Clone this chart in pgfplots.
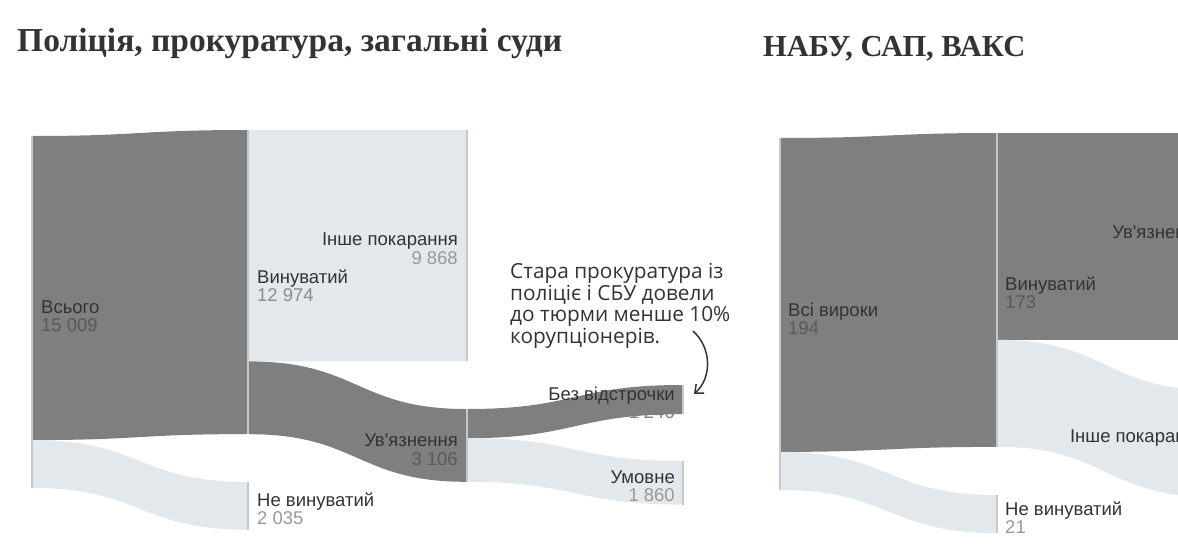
\documentclass[border=0pt]{standalone}
\usepackage{pgfplots}
\pgfplotsset{compat=1.18}
\usetikzlibrary{arrows.meta}
\usepackage{fontspec}
\setmainfont{Liberation Sans}[Ligatures=TeXOff]
\newfontfamily\titlefont{Liberation Serif}
\newfontfamily\notefont{Open Sans}

\definecolor{dark}{HTML}{7F7F7F}
\definecolor{light}{HTML}{E2E8EB}
\definecolor{nodebar}{HTML}{C8C8C8}
\definecolor{txt}{HTML}{333333}

% flow: x0, top at source, x1, top at target, value, colour
\newcommand\flow[6]{%
  \pgfmathsetmacro\fw{#5*\pxper}%
  \pgfmathsetmacro\xm{(#1+#3)/2}%
  \pgfmathsetmacro\ya{#2+\fw}%
  \pgfmathsetmacro\yb{#4+\fw}%
  \edef\tmp{\noexpand\fill[#6] (axis cs:#1,#2) .. controls (axis cs:\xm,#2) and (axis cs:\xm,#4) .. (axis cs:#3,#4)
    -- (axis cs:#3,\yb) .. controls (axis cs:\xm,\yb) and (axis cs:\xm,\ya) .. (axis cs:#1,\ya) -- cycle;}%
  \tmp}
% node bar: x, top, value
\newcommand\nodebar[3]{%
  \pgfmathsetmacro\yb{#2+#3*\pxper}%
  \edef\tmp{\noexpand\fill[nodebar] (axis cs:#1-1,#2) rectangle (axis cs:#1+1,\yb);}%
  \tmp}
% label: x, baseline, side, name, number, number colour
\newcommand\lbl[6]{%
  \node[lbl, anchor=base #3, text=txt] at (axis cs:#1,#2) {#4};
  \node[lbl, anchor=base #3, text=#6] at (axis cs:#1,#2+18.5) {#5};}

\tikzset{
  lbl/.style={inner sep=0pt, font=\fontsize{18.5bp}{22bp}\selectfont},
  note/.style={inner sep=0pt, anchor=base west, text=txt, font=\notefont\fontsize{20.8bp}{22bp}\selectfont},
}

\begin{document}
\begin{tikzpicture}
\begin{axis}[
    at={(0,0)}, anchor=south west,
    scale only axis, width=1178bp, height=552bp,
    xmin=0, xmax=1178, ymin=0, ymax=552,
    y dir=reverse,
    hide axis,
]
% ---- Поліція, прокуратура, загальні суди ----
\pgfmathsetmacro\pxper{352/15009}
\flow{33}{136}{247}{130}{12974}{dark}
\flow{33}{440.3}{247}{482}{2035}{light}
\flow{249}{130}{466}{130}{9868}{light}
\flow{249}{361.4}{466}{409}{3106}{dark}
\flow{468}{409}{682}{385}{1246}{dark}
\flow{468}{438.2}{682}{461}{1860}{light}
\nodebar{32}{136}{15009}
\nodebar{248}{130}{12974}
\nodebar{248}{482}{2035}
\nodebar{467}{130}{9868}
\nodebar{467}{409}{3106}
\nodebar{683}{385}{1246}
\nodebar{683}{461}{1860}

\lbl{41}{313}{west}{Всього}{15 009}{black!65}
\lbl{257}{283}{west}{Винуватий}{12 974}{black!45}
\lbl{458}{245.7}{east}{Інше покарання}{9 868}{black!40}
\lbl{458}{446.5}{east}{Ув'язнення}{3 106}{black!65}
\lbl{257}{506}{west}{Не винуватий}{2 035}{black!40}
\lbl{675}{400}{east}{Без відстрочки}{1 246}{black!50}
\lbl{675}{483.3}{east}{Умовне}{1 860}{black!40}

% ---- НАБУ, САП, ВАКС ----
\pgfmathsetmacro\pxper{352/194}
\flow{781}{138}{996}{133}{173}{dark}
\flow{781}{451.9}{996}{495}{21}{light}
\flow{998}{133}{1213}{133}{114}{dark}
\flow{998}{339.8}{1213}{390}{59}{light}
\nodebar{780}{138}{194}
\nodebar{997}{133}{173}
\nodebar{997}{495}{21}
\nodebar{1214}{133}{114}
\nodebar{1214}{390}{59}

\lbl{788}{316}{west}{Всі вироки}{194}{black!65}
\lbl{1005}{290}{west}{Винуватий}{173}{black!65}
\node[lbl, anchor=base east, text=txt] at (axis cs:1206,238.3) {Ув'язнення};
\node[lbl, anchor=base east, text=txt] at (axis cs:1206,442.7) {Інше покарання};
\lbl{1005}{515}{west}{Не винуватий}{21}{black!40}

% ---- titles ----
\node[inner sep=0pt, anchor=base west, text=txt, font=\titlefont\bfseries\fontsize{33.5bp}{36bp}\selectfont]
  at (axis cs:17,52) {Поліція, прокуратура, загальні суди};
\node[inner sep=0pt, anchor=base west, text=txt, font=\titlefont\bfseries\fontsize{30.5bp}{34bp}\selectfont]
  at (axis cs:763,56.7) {НАБУ, САП, ВАКС};

% ---- annotation ----
\node[note] at (axis cs:510,278.3) {Стара прокуратура із};
\node[note] at (axis cs:510,300) {поліціє і СБУ довели};
\node[note] at (axis cs:510,321.7) {до тюрми менше 10\%};
\node[note] at (axis cs:510,343.3) {корупціонерів.};
\draw[txt, line width=1.5bp, -{Straight Barb[length=7bp, width=12bp]}]
  (axis cs:693,331) .. controls (axis cs:712,348) and (axis cs:712,378) .. (axis cs:694,394);
\end{axis}
\pgfresetboundingbox
\path[use as bounding box] (0,0) rectangle (1178bp,552bp);
\end{tikzpicture}
\end{document}
